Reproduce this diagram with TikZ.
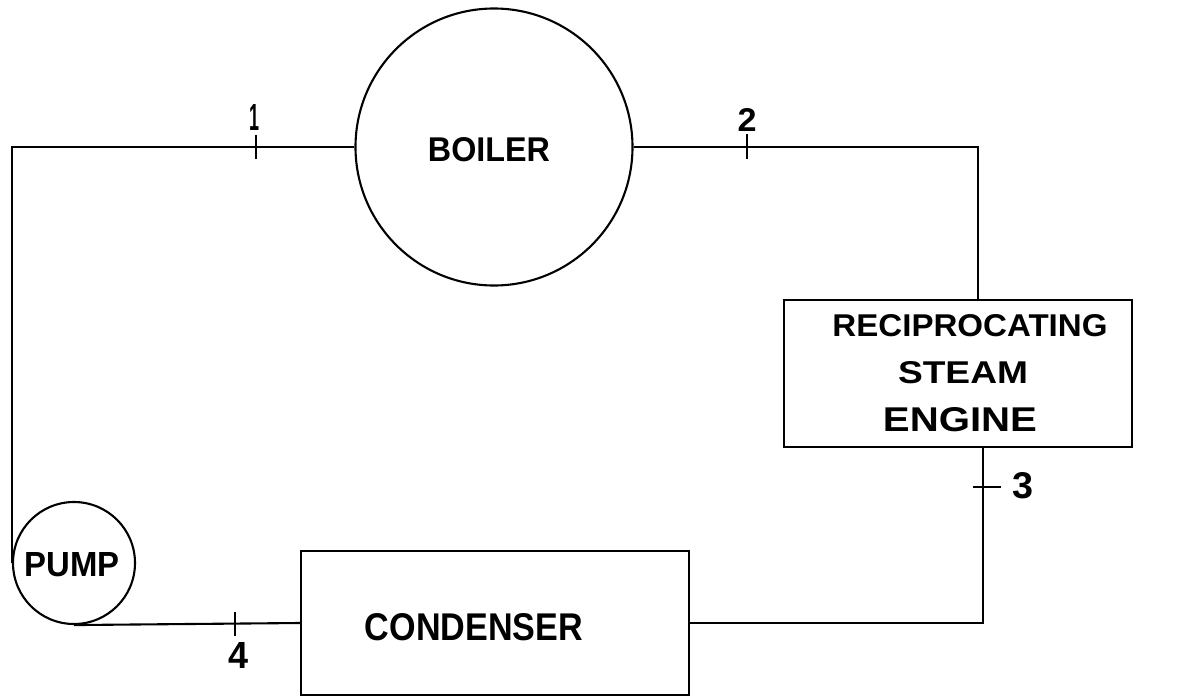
\documentclass[tikz,border=0pt]{standalone}
\usepackage{fontspec}
\setmainfont{Liberation Sans}
\usepackage{graphicx}
\newcommand{\fitlbl}[3]{\resizebox{#1pt}{#2pt}{\bfseries #3}}
\begin{document}
\begin{tikzpicture}[x=1pt,y=-1pt,
  pipe/.style={line width=2.1pt, line join=miter},
  unitshape/.style={draw, line width=2.1pt, inner sep=0pt},
  tickmark/.style={line width=2.6pt},
  lbl/.style={inner sep=0pt, anchor=center}]
\useasboundingbox (0,0) rectangle (1180,698);
% components
\node[unitshape, circle, minimum size=277pt] (boiler) at (494,147) {};
\node[unitshape, circle, minimum size=122pt] (pump) at (74,563) {};
\node[unitshape, rectangle, minimum width=348pt, minimum height=147pt] (engine) at (958,373.5) {};
\node[unitshape, rectangle, minimum width=388pt, minimum height=144pt] (condenser) at (495,623) {};
% labels
\node[lbl] (tboiler) at (489,150) {\fitlbl{122}{24}{BOILER}};
\node[lbl] (tpump) at (72,565) {\fitlbl{95}{24}{PUMP}};
\node[lbl] (tcond) at (474,627) {\fitlbl{218}{27}{CONDENSER}};
\node[lbl] (teng1) at (970,326) {\fitlbl{275}{22}{RECIPROCATING}};
\node[lbl] (teng2) at (963,373) {\fitlbl{130}{22}{STEAM}};
\node[lbl] (teng3) at (960,420) {\fitlbl{154}{24}{ENGINE}};
% connection points
\coordinate (ein) at (978,300);
\coordinate (eout) at (983,447);
% pipes
\draw[pipe] (boiler.west) -| (pump.west);
\draw[pipe] (boiler.east) -| (ein);
\draw[pipe] (eout) |- (condenser.east);
\draw[pipe] (pump.south) -- (condenser.west);
% state points
\coordinate (p1) at (256,147);
\coordinate (p2) at (747,147);
\coordinate (p3) at (983,487);
\coordinate (p4) at (235,624);
\draw[tickmark] ([yshift=-12pt]p1) -- ([yshift=12pt]p1);
\draw[tickmark] ([yshift=-12pt]p2) -- ([yshift=13pt]p2);
\draw[tickmark] ([xshift=-10pt]p3) -- ([xshift=18pt]p3);
\draw[tickmark] ([yshift=-12pt]p4) -- ([yshift=12pt]p4);
\node[lbl] (n1) at (254,117) {\fitlbl{10}{26}{1}};
\node[lbl] (n2) at (747,120) {\fitlbl{19}{23}{2}};
\node[lbl] (n3) at (1023,486) {\fitlbl{21}{26}{3}};
\node[lbl] (n4) at (238,655) {\fitlbl{20}{26}{4}};
\end{tikzpicture}
\end{document}
